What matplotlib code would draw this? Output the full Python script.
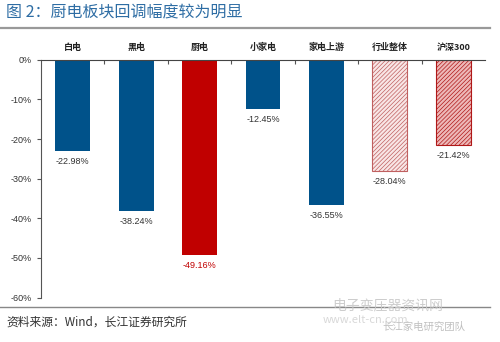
import matplotlib
matplotlib.use("Agg")
import matplotlib.pyplot as plt
from matplotlib.ticker import FuncFormatter, MultipleLocator

plt.rcParams['font.family'] = ['Noto Sans CJK SC', 'DejaVu Sans']
plt.rcParams['hatch.linewidth'] = 0.5

# 各板块回调幅度
categories = ['白电', '黑电', '厨电', '小家电', '家电上游', '行业整体', '沪深300']
values = [-22.98, -38.24, -49.16, -12.45, -36.55, -28.04, -21.42]

blue = '#00528A'
red = '#C00000'
face = [blue, blue, red, blue, blue, '#F8E6E6', '#EDB8B8']
edge = [blue, blue, red, blue, blue, '#C06060', '#B01818']
hatch = [None, None, None, None, None, '////////', '////////']

fig = plt.figure(figsize=(5, 3.42), dpi=100)
ax = fig.add_axes([0.082, 0.130, 0.888, 0.695])

for i, v in enumerate(values):
    ax.bar(i, v, width=0.55, color=face[i], edgecolor=edge[i],
           hatch=hatch[i], linewidth=0.8 if hatch[i] else 0)
    ax.text(i, v - 1.5, f'{v:.2f}%', ha='center', va='top', fontsize=6.5,
            color=red if categories[i] == '厨电' else '#333333',
            family=['Liberation Sans', 'DejaVu Sans'])
    ax.text(i, 1.9, categories[i], ha='center', va='bottom', fontsize=6.5,
            fontweight='bold', color='#222222')

ax.set_xlim(-0.5, len(categories) - 0.5)
ax.set_ylim(-60, 0)
ax.yaxis.set_major_locator(MultipleLocator(10))
ax.yaxis.set_major_formatter(FuncFormatter(lambda v, p: f'{v:.0f}%'))
ax.tick_params(axis='y', labelsize=6.5, length=3, colors='#555555', labelcolor='#333333')

ax.set_xticks([i + 0.5 for i in range(len(categories) - 1)])
ax.set_xticklabels([])
ax.tick_params(axis='x', length=3, direction='out', colors='#555555')
ax.spines['bottom'].set_position(('data', 0))
ax.spines['bottom'].set_color('#444444')
ax.spines['left'].set_color('#555555')
ax.spines['top'].set_visible(False)
ax.spines['right'].set_visible(False)
for lab in ax.get_yticklabels():
    lab.set_family(['Liberation Sans', 'DejaVu Sans'])

# 标题与分隔线
fig.text(0.012, 0.962, '图 2：厨电板块回调幅度较为明显', fontsize=11.5,
         color='#2E6DA4', va='center', ha='left')
fig.add_artist(plt.Line2D([0.0, 0.98], [0.918, 0.918], color='#999999', lw=1.6))
fig.add_artist(plt.Line2D([0.0, 0.98], [0.102, 0.102], color='#888888', lw=1.0))
fig.text(0.012, 0.058, '资料来源：Wind，长江证券研究所', fontsize=8.5,
         color='#333333', va='center', ha='left')

# 水印
fig.text(0.665, 0.108, '电子变压器资讯网', fontsize=10, color='#C8C8C8',
         va='center', ha='left', alpha=0.9)
fig.text(0.645, 0.065, 'www.elt-cn.com', fontsize=8, color='#D8D8D8',
         va='center', ha='left', style='italic')
fig.text(0.765, 0.045, '长江家电研究团队', fontsize=7.5, color='#C0C0C0',
         va='center', ha='left')

fig.savefig('out.png', dpi=100)
